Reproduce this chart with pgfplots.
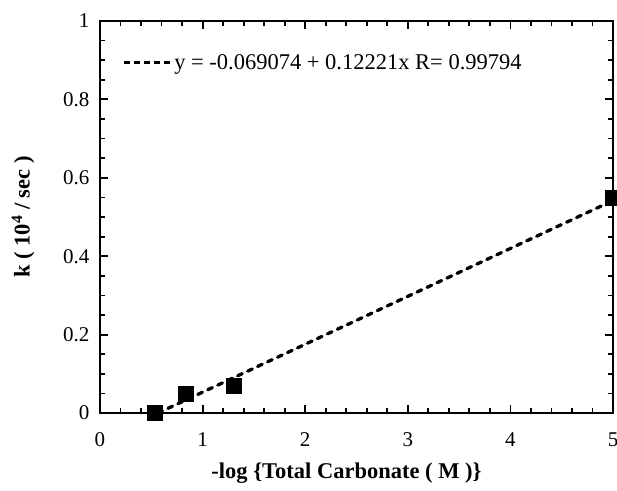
\documentclass[border=0pt]{standalone}
\usepackage{fontspec}
\setmainfont{Liberation Serif}
\usepackage{pgfplots}
\pgfplotsset{compat=1.18}
\usetikzlibrary{calc}
\begin{document}
\begin{tikzpicture}
\begin{axis}[
  scale only axis,
  width=513pt, height=392pt,
  xmin=0, xmax=5, ymin=0, ymax=1,
  xtick={0,1,2,3,4,5},
  ytick={0,0.2,0.4,0.6,0.8,1},
  minor x tick num=4,
  minor y tick num=3,
  tick align=inside,
  major tick length=8pt,
  minor tick length=5pt,
  every tick/.style={black, line width=1.8pt},
  axis line style={line width=2.6pt},
  tick label style={font=\fontsize{21}{24}\selectfont},
  xticklabel style={yshift=-16pt},
  yticklabel style={xshift=-7pt, /pgf/number format/fixed},
  /pgf/number format/assume math mode=true,
  xlabel={\textbf{-log \{Total Carbonate ( M )\}}},
  ylabel={\textbf{k ( 10\textsuperscript{4} / sec )}},
  label style={font=\fontsize{22.5}{24}\selectfont},
  xlabel style={yshift=-9pt, xshift=-10pt},
  ylabel style={yshift=22pt},
  legend style={draw=none, fill=none, at={(0.043,0.893)}, anchor=west,
    font=\fontsize{22.5}{24}\selectfont, inner sep=0pt},
  legend cell align=left,
  legend image code/.code={\draw[#1] (0pt,0pt) -- (47pt,0pt);},
]
\addplot[black, line width=3.3pt, dash pattern=on 5pt off 6pt, line cap=round, forget plot]
  coordinates {(0.5652,0) (5,0.54198)};
\addplot[only marks, mark=square*, mark size=7.5pt, black]
  coordinates {(0.53,0.002) (0.84,0.048) (1.30,0.069) (5.0,0.548)};
\addlegendimage{black, line width=3pt, dash pattern=on 6.5pt off 3.5pt}
\legend{,y = -0.069074 + 0.12221x R= 0.99794}
\end{axis}
\pgfresetboundingbox
\path ($(current axis.south west)+(-100pt,-77pt)$) rectangle ($(current axis.north east)+(4pt,21pt)$);
\end{tikzpicture}
\end{document}
